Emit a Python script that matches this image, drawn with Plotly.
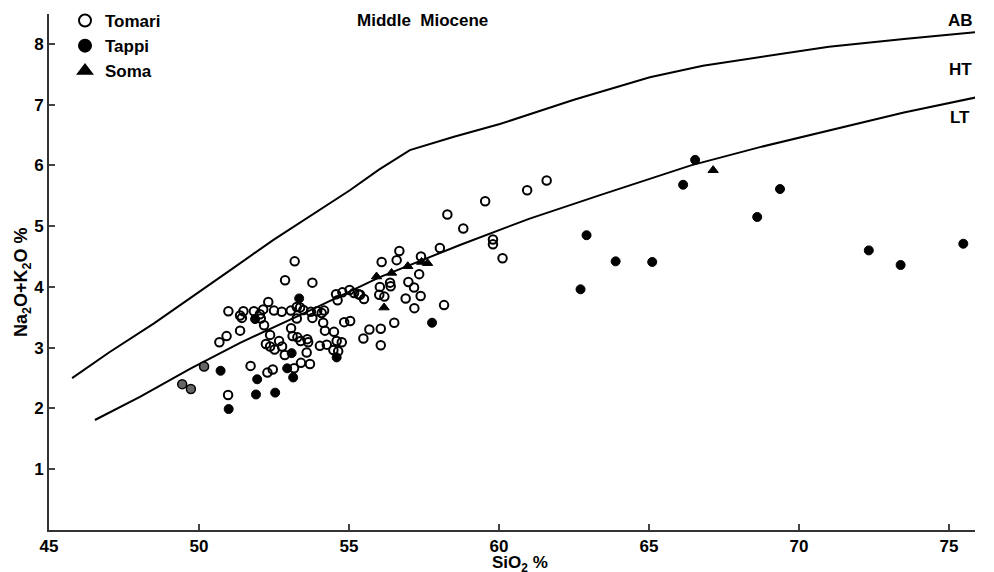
import plotly.graph_objects as go

# Boundary curves
ab_x = [45.77, 47.0, 48.5, 50.0, 51.2, 52.47, 53.8, 55.03, 56.0, 57.03, 58.5, 60.03, 62.5, 65.03, 66.8, 68.7, 71.0, 73.5, 75.87]
ab_y = [2.50, 2.92, 3.40, 3.91, 4.33, 4.77, 5.20, 5.59, 5.93, 6.25, 6.47, 6.68, 7.08, 7.45, 7.64, 7.78, 7.95, 8.08, 8.19]
lt_x = [46.53, 48.03, 49.7, 51.37, 53.6, 56.03, 58.7, 61.0, 63.37, 66.4, 68.7, 71.03, 73.5, 75.93]
lt_y = [1.81, 2.19, 2.65, 3.08, 3.59, 4.16, 4.69, 5.12, 5.51, 6.00, 6.30, 6.58, 6.87, 7.12]

# Tomari (open circles)
tomari_x = [53.19, 52.87, 53.78, 52.31, 50.98, 51.48, 51.37, 51.43, 51.83, 52.14,
            52.03, 52.06, 52.50, 52.76, 53.06, 53.26, 53.37, 53.48, 53.26, 53.73,
            53.78, 53.94, 54.17, 54.09, 54.57, 54.78, 55.02, 55.17, 55.32, 54.62,
            52.17, 51.37, 50.92, 50.68, 52.37, 53.07, 53.12, 53.28, 53.39, 53.61,
            53.64, 54.14, 54.20, 54.50, 54.84, 55.04, 52.23, 52.37, 52.52, 52.67,
            52.77, 52.86, 53.59, 54.03, 54.26, 54.48, 54.64, 51.72, 52.46, 52.28,
            53.17, 53.40, 53.70, 50.97, 54.59, 54.76, 55.50, 56.68, 56.59, 56.09,
            57.40, 58.03, 57.34, 56.37, 56.39, 56.98, 57.17, 56.03, 56.01, 56.18,
            56.89, 57.39, 57.18, 58.17, 55.37, 56.51, 55.68, 56.06, 55.48, 56.06,
            61.59, 60.94, 59.54, 58.28, 58.81, 59.80, 59.80, 60.12]
tomari_y = [4.42, 4.11, 4.07, 3.75, 3.60, 3.60, 3.53, 3.49, 3.60, 3.63,
            3.55, 3.48, 3.61, 3.59, 3.61, 3.67, 3.66, 3.62, 3.48, 3.59,
            3.49, 3.60, 3.61, 3.57, 3.88, 3.91, 3.95, 3.90, 3.88, 3.78,
            3.37, 3.28, 3.19, 3.09, 3.21, 3.32, 3.19, 3.17, 3.11, 3.14,
            3.09, 3.41, 3.28, 3.26, 3.42, 3.44, 3.06, 3.02, 2.97, 3.11,
            3.02, 2.88, 2.92, 3.03, 3.05, 2.96, 2.94, 2.70, 2.64, 2.59,
            2.66, 2.75, 2.73, 2.22, 3.11, 3.09, 3.80, 4.59, 4.44, 4.41,
            4.50, 4.64, 4.21, 4.07, 4.01, 4.08, 3.99, 4.00, 3.87, 3.84,
            3.81, 3.85, 3.65, 3.70, 3.87, 3.41, 3.30, 3.31, 3.15, 3.04,
            5.75, 5.59, 5.41, 5.19, 4.96, 4.78, 4.70, 4.47]

# Tappi (filled circles)
tappi_x = [53.34, 51.87, 53.09, 54.59, 52.94, 53.14, 50.72, 51.94, 51.90, 52.54,
           50.99, 57.77, 62.92, 62.72, 63.89, 65.11, 66.54, 66.14, 68.61, 69.37,
           72.33, 73.39, 75.48]
tappi_y = [3.81, 3.47, 2.91, 2.84, 2.66, 2.51, 2.62, 2.48, 2.23, 2.26,
           1.99, 3.41, 4.85, 3.96, 4.42, 4.41, 6.09, 5.68, 5.15, 5.61,
           4.60, 4.36, 4.71]
# Tappi samples drawn with a grey (hatched) fill
tappi_grey_x = [50.17, 49.44, 49.73]
tappi_grey_y = [2.69, 2.40, 2.32]

# Soma (triangles)
soma_x = [55.92, 56.42, 56.96, 57.42, 57.62, 56.17, 67.14]
soma_y = [4.17, 4.23, 4.34, 4.41, 4.39, 3.66, 5.92]

x_ticks = [45, 50, 55, 60, 65, 70, 75]
y_ticks = [1, 2, 3, 4, 5, 6, 7, 8]

FONT = "Liberation Sans"
# page has an 8px body margin, so the figure is offset by 8px
W, H = 978, 564
ML, MR, MT, MB = 41, 11, 6, 42
PW, PH = W - ML - MR, H - MT - MB

fig = go.Figure()
fig.add_trace(go.Scatter(x=ab_x, y=ab_y, mode="lines", line=dict(color="black", width=2),
                         showlegend=False, hoverinfo="skip"))
fig.add_trace(go.Scatter(x=lt_x, y=lt_y, mode="lines", line=dict(color="black", width=2),
                         showlegend=False, hoverinfo="skip"))
fig.add_trace(go.Scatter(x=tomari_x, y=tomari_y, mode="markers", name="Tomari",
                         marker=dict(symbol="circle-open", size=8.5, color="black",
                                     line=dict(width=2, color="black"))))
fig.add_trace(go.Scatter(x=tappi_x, y=tappi_y, mode="markers", name="Tappi",
                         marker=dict(symbol="circle", size=9, color="black",
                                     line=dict(width=1, color="black"))))
fig.add_trace(go.Scatter(x=tappi_grey_x, y=tappi_grey_y, mode="markers", name="Tappi",
                         showlegend=False,
                         marker=dict(symbol="circle", size=9, color="#666666",
                                     line=dict(width=1.5, color="black"))))
fig.add_trace(go.Scatter(x=soma_x, y=soma_y, mode="markers", name="Soma",
                         marker=dict(symbol="triangle-up", size=9, color="black",
                                     line=dict(width=1, color="black"))))

fig.add_annotation(x=(414 - ML) / PW, xref="paper", y=1.0, yref="paper",
                   xanchor="center", yanchor="middle", yshift=-6,
                   text="<b>Middle  Miocene</b>", showarrow=False,
                   font=dict(family=FONT, size=17, color="black"))
for lbl, yv in [("AB", 8.39), ("HT", 7.57), ("LT", 6.78)]:
    fig.add_annotation(x=75.37, y=yv, text="<b>%s</b>" % lbl, showarrow=False,
                       font=dict(family=FONT, size=17, color="black"))
# axis titles
fig.add_annotation(x=(512 - ML) / PW, xref="paper", y=(H - MB - 556) / PH, yref="paper",
                   xanchor="center", yanchor="middle",
                   text="<b>SiO<sub>2</sub> %</b>", showarrow=False,
                   font=dict(family=FONT, size=17, color="black"))
fig.add_annotation(x=(14 - ML) / PW, xref="paper", y=(H - MB - 274) / PH, yref="paper",
                   xanchor="center", yanchor="middle", textangle=-90,
                   text="<b>Na<sub>2</sub>O+K<sub>2</sub>O %</b>", showarrow=False,
                   font=dict(family=FONT, size=18, color="black"))

fig.update_layout(
    width=W, height=H,
    margin=dict(l=ML, r=MR, t=MT, b=MB, autoexpand=False),
    paper_bgcolor="white", plot_bgcolor="white",
    font=dict(family=FONT, color="black"),
    legend=dict(x=(57 - ML) / PW, y=(H - MB + 5) / PH, xref="paper", yref="paper",
                xanchor="left", yanchor="top",
                font=dict(family=FONT, size=17, color="black", weight="bold"),
                itemsizing="constant", tracegroupgap=0, bgcolor="rgba(0,0,0,0)"),
    xaxis=dict(range=[45, 75.87], tickvals=x_ticks,
               ticktext=["<b>%d</b>" % v for v in x_ticks],
               ticks="inside", ticklen=6, automargin=False,
               tickwidth=1.5, showline=True, linecolor="#333", linewidth=2,
               showgrid=False, zeroline=False,
               tickfont=dict(family=FONT, size=17, color="black")),
    yaxis=dict(range=[0, 8.49], tickvals=y_ticks,
               ticktext=["<b>%d</b>" % v for v in y_ticks],
               ticks="inside", ticklen=6, automargin=False,
               tickwidth=1.5, showline=True, linecolor="#333", linewidth=2,
               showgrid=False, zeroline=False,
               tickfont=dict(family=FONT, size=17, color="black")),
)

fig.write_html("out.html")
